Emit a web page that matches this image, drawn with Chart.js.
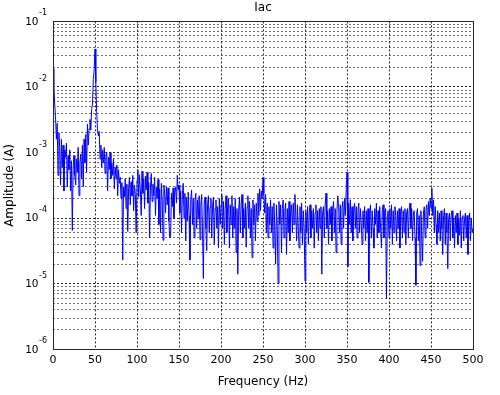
<!DOCTYPE html>
<html lang="en">
<head>
<meta charset="UTF-8">
<title>Iac</title>
<script src="https://cdn.jsdelivr.net/npm/chart.js"></script>
<style>
  html, body { margin: 0; padding: 0; background: #fff; }
</style>
</head>
<body>
<canvas id="iacChart" width="500" height="395"></canvas>
<script>
// spectrum bins, 1 Hz apart
const freqStep = 1;

const amp000 = [
  1.9e-2, 1.1e-2, 5.5e-3, 3.5e-3, 1.6e-3, 2.8e-3, 4.5e-4, 2.0e-3, 1.2e-3, 3.2e-4,
  1.6e-3, 6e-4, 1.3e-3, 2.6e-4, 1.1e-3, 8.5e-4, 1.4e-3, 3e-4, 9e-4, 5.5e-4,
  1.1e-3, 2.6e-4, 7.5e-4, 6.5e-5, 6e-4, 9e-4, 4.5e-4, 3.2e-4, 8e-4, 5e-4,
  1.2e-3, 2.2e-4, 7e-4, 9.5e-4, 4e-4, 1.3e-3, 3e-4, 1.6e-3, 7e-4, 1.9e-3,
  5e-4, 2.7e-3, 1.3e-3, 2.3e-3, 3.2e-3, 2.2e-3, 4.5e-3, 5.5e-3, 1.3e-2, 1.8e-2,
  3.8e-2, 1.2e-2, 4.2e-3, 2.2e-3, 1.8e-3, 2.1e-3, 8e-4, 1.3e-3, 6e-4, 1.1e-3,
  7e-4, 1.2e-3, 4.8e-4, 9e-4, 1.0e-3, 2.6e-4, 8.5e-4, 5.5e-4, 1.0e-3, 4e-4,
  7e-4, 4.5e-4, 8e-4, 2.8e-4, 6e-4, 4e-4, 6.5e-4, 2.2e-4, 5.5e-4, 3.4e-4,
  4.2e-4, 2e-4, 3.5e-4, 2.3e-5, 3e-4, 2.1e-4, 4e-4, 1.4e-4, 3.3e-4, 6.3e-5,
  2.8e-4, 4.2e-4, 1.6e-4, 3.6e-4, 2.2e-4, 4.5e-4, 1.3e-4, 3.2e-4, 2.3e-4, 6e-5
];
const amp100 = [
  3.8e-4, 5.5e-4, 2.1e-4, 4.6e-4, 2.6e-4, 1.1e-4, 5.2e-4, 2.4e-4, 4e-4, 1.4e-4,
  4.4e-4, 2.7e-4, 5e-4, 1.7e-4, 3.5e-4, 5e-5, 2.9e-4, 4.8e-4, 1.8e-4, 3.3e-4,
  2.2e-4, 4.2e-4, 1.1e-4, 3e-4, 2e-4, 3.9e-4, 8e-5, 2.8e-4, 6e-5, 3.4e-4,
  1.9e-4, 4.6e-5, 3.2e-4, 2.3e-4, 1.2e-4, 3e-4, 1.6e-4, 2.9e-4, 9e-5, 5e-5,
  5.1e-5, 2.4e-4, 1.5e-4, 2.9e-4, 1e-4, 2.5e-4, 3e-4, 1.7e-4, 4.5e-4, 2.7e-4,
  3.2e-4, 1.2e-4, 2.6e-4, 6e-5, 2.3e-4, 3.4e-4, 1e-4, 2.4e-4, 4.5e-5, 2.1e-4,
  9e-5, 2.5e-4, 1.1e-4, 2.3e-5, 1.9e-4, 2.7e-4, 8e-5, 2e-4, 5e-5, 1.8e-4,
  2.4e-4, 7e-5, 1.9e-4, 1e-4, 2.2e-4, 4.7e-5, 1.6e-4, 2.3e-4, 6e-5, 1.2e-5,
  1.7e-4, 2.1e-4, 7e-5, 3.2e-5, 1.6e-4, 2.2e-4, 6e-5, 1.5e-4, 2e-4, 5e-5,
  1.6e-4, 2.1e-4, 4e-5, 1.4e-4, 1.9e-4, 7e-5, 1.5e-4, 3.5e-5, 2e-4, 8e-5
];
const amp200 = [
  1.6e-4, 2.3e-4, 7e-5, 1.8e-4, 4e-5, 1.4e-4, 2.2e-4, 6e-5, 1.5e-4, 2e-4,
  3.5e-5, 1.6e-4, 8e-5, 2.2e-4, 5e-5, 1.5e-4, 7e-5, 2e-4, 3e-5, 1.4e-4,
  1.4e-5, 1.3e-4, 2.1e-4, 6e-5, 1.6e-4, 2.3e-4, 5e-5, 1.4e-4, 7e-5, 1.7e-4,
  3.6e-5, 1.5e-4, 2.2e-4, 7e-5, 1.8e-4, 5e-5, 1.4e-4, 2.5e-5, 1.9e-4, 8e-5,
  1.6e-4, 4.5e-5, 1.7e-4, 9e-5, 2.4e-4, 1.1e-4, 2.8e-4, 1.3e-4, 2.6e-4, 2e-4,
  4.2e-4, 2.4e-4, 1.2e-4, 2.3e-4, 6e-5, 1.7e-4, 5e-5, 1.5e-4, 8e-5, 1.9e-4,
  6e-5, 1.5e-4, 3.5e-5, 1.7e-4, 8e-5, 2e-5, 1.6e-4, 7e-5, 1e-5, 1.8e-4,
  8e-5, 1.6e-4, 3e-5, 1.4e-4, 1.9e-4, 5e-5, 1.3e-4, 1.7e-4, 2.8e-5, 1.4e-4,
  6e-5, 1.8e-4, 4.5e-5, 1.3e-4, 1.6e-4, 6e-5, 1.7e-4, 8e-5, 2.3e-4, 1.2e-4,
  4.5e-5, 1.6e-4, 7e-5, 3.5e-5, 1.5e-4, 6e-5, 1.7e-4, 4e-5, 1.3e-4, 7e-5
];
const amp300 = [
  1.1e-5, 1.3e-4, 6e-5, 1.5e-4, 4e-5, 1.2e-4, 1.6e-4, 5e-5, 1.3e-4, 7e-5,
  1.4e-4, 3.5e-5, 1.2e-4, 1.6e-4, 6e-5, 1.3e-4, 4.5e-5, 1.4e-4, 7e-5, 1.5e-4,
  1.4e-5, 1.2e-4, 1.5e-4, 5e-5, 1.6e-4, 2.4e-4, 7e-5, 1.3e-4, 4e-5, 1.4e-4,
  8e-5, 1.5e-4, 4.5e-5, 1.3e-4, 1.8e-4, 6e-5, 1.4e-4, 3e-5, 1.3e-4, 2.2e-4,
  1.5e-4, 6e-5, 1.6e-4, 4e-5, 1.4e-4, 1.8e-4, 7e-5, 2e-4, 1.1e-4, 2.6e-4,
  5e-4, 1.8e-5, 1.7e-4, 8e-5, 1.9e-4, 6e-5, 1.5e-4, 4.5e-5, 1.3e-4, 1.7e-4,
  7e-5, 1.5e-4, 5e-5, 1.3e-4, 1.7e-4, 6e-5, 1.4e-4, 8e-5, 4e-5, 1.3e-4,
  7e-5, 1.5e-4, 4.5e-5, 1.3e-4, 6e-5, 1.4e-4, 1.05e-5, 1.2e-4, 1.6e-4, 5e-5,
  1.3e-4, 7e-5, 3.5e-5, 1.4e-4, 8e-5, 1.7e-4, 5e-5, 1.3e-4, 6e-5, 1.5e-4,
  7e-5, 3.5e-5, 1.3e-4, 1.6e-4, 5e-5, 1.2e-4, 1.4e-4, 5.9e-6, 1e-4, 1.3e-4
];
const amp400 = [
  5e-5, 1.4e-4, 7e-5, 1.6e-4, 4e-5, 1.3e-4, 6e-5, 1.5e-4, 1.1e-4, 4.5e-5,
  1.3e-4, 7e-5, 1.4e-4, 3.5e-5, 1.2e-4, 1.5e-4, 5e-5, 1.3e-4, 6e-5, 1.4e-4,
  4e-5, 1.2e-4, 1.4e-4, 5e-5, 1.3e-4, 1.7e-4, 7e-5, 1.4e-4, 4.5e-5, 1.2e-4,
  1.3e-4, 5e-5, 9.5e-6, 1.2e-4, 1.4e-4, 4.5e-5, 1.1e-4, 1.9e-5, 1.3e-4, 6e-5,
  2.2e-5, 1.2e-4, 1.5e-4, 5e-5, 1.3e-4, 1.6e-4, 7e-5, 1.8e-4, 1.1e-4, 2e-4,
  1.4e-4, 2.9e-4, 1.1e-4, 1.9e-4, 6e-5, 1.5e-4, 8e-5, 4e-5, 1.3e-4, 6e-5,
  1.2e-4, 4.5e-5, 1.3e-4, 7e-5, 2.8e-5, 1.1e-4, 1.4e-4, 4e-5, 1.2e-4, 6e-5,
  1.7e-5, 1e-4, 1.2e-4, 4.5e-5, 1.1e-4, 1.3e-4, 5e-5, 1e-4, 3.5e-5, 1.1e-4,
  6e-5, 1.2e-4, 4e-5, 1e-4, 5.5e-5, 1.3e-4, 3.5e-5, 1e-4, 1.1e-4, 4.5e-5,
  1e-4, 1.2e-4, 5e-5, 1.1e-4, 2.8e-5, 9e-5, 1.2e-4, 4.5e-5, 1e-4, 6e-5,
  7e-5
];
const amplitude = amp000.concat(amp100, amp200, amp300, amp400);

const xTicks = [0, 50, 100, 150, 200, 250, 300, 350, 400, 450, 500];
const yDecades = [-6, -5, -4, -3, -2, -1];
const yMinor = [2, 3, 4, 5, 6, 7, 8, 9];

const fontName = '"DejaVu Sans", "Liberation Sans", sans-serif';

function isDecade(v) {
  const l = Math.log10(v);
  return Math.abs(l - Math.round(l)) < 1e-6;
}

// y labels as 10 with a raised exponent, axis label, and the frame
const matlabAxes = {
  id: 'matlabAxes',
  afterDraw(chart) {
    const { ctx, chartArea, scales } = chart;
    const y = scales.y;
    ctx.save();
    ctx.fillStyle = '#000';
    yDecades.forEach(e => {
      const py = y.getPixelForValue(Math.pow(10, e));
      ctx.font = '10.5px ' + fontName;
      ctx.textAlign = 'right';
      ctx.textBaseline = 'middle';
      ctx.fillText('10', 38.5, py + 0.5);
      ctx.font = '8px ' + fontName;
      ctx.textAlign = 'left';
      ctx.fillText(String(e), 39, py - 8);
    });

    ctx.translate(10, (chartArea.top + chartArea.bottom) / 2);
    ctx.rotate(-Math.PI / 2);
    ctx.font = '12px ' + fontName;
    ctx.textAlign = 'center';
    ctx.textBaseline = 'middle';
    ctx.fillText('Amplitude (A)', 0, 0);
    ctx.restore();

    ctx.save();
    ctx.strokeStyle = '#262626';
    ctx.lineWidth = 1;
    ctx.strokeRect(Math.round(chartArea.left) + 0.5, Math.round(chartArea.top) + 0.5,
      Math.round(chartArea.right - chartArea.left), Math.round(chartArea.bottom - chartArea.top));
    ctx.restore();
  }
};

new Chart(document.getElementById('iacChart'), {
  type: 'line',
  data: {
    datasets: [{
      label: 'Iac',
      data: amplitude.map((a, i) => ({ x: i * freqStep, y: a })),
      borderColor: '#0000ff',
      borderWidth: 1,
      pointRadius: 0,
      tension: 0,
      fill: false
    }]
  },
  options: {
    responsive: false,
    animation: false,
    layout: { padding: { left: 53, right: 27, top: 0, bottom: 6 } },
    plugins: {
      legend: { display: false },
      tooltip: { enabled: false },
      title: {
        display: true,
        text: 'Iac',
        color: '#000',
        font: { family: fontName, size: 12, weight: 'normal' },
        padding: { top: 1, bottom: 6 }
      }
    },
    scales: {
      x: {
        type: 'linear',
        min: 0,
        max: 500,
        afterBuildTicks: s => { s.ticks = xTicks.map(v => ({ value: v })); },
        grid: { color: 'rgba(0,0,0,0.85)', lineWidth: 1, drawTicks: false },
        border: { display: false, dash: [2, 2] },
        ticks: {
          color: '#000',
          padding: 4,
          maxRotation: 0,
          font: { family: fontName, size: 11 }
        },
        title: {
          display: true,
          text: 'Frequency (Hz)',
          color: '#000',
          font: { family: fontName, size: 12 },
          padding: { top: 4, bottom: 0 }
        }
      },
      y: {
        type: 'logarithmic',
        min: 1e-6,
        max: 1e-1,
        afterBuildTicks: s => {
          const t = [];
          yDecades.forEach(e => {
            t.push({ value: Math.pow(10, e) });
            if (e < -1) yMinor.forEach(m => t.push({ value: m * Math.pow(10, e) }));
          });
          s.ticks = t;
        },
        grid: {
          lineWidth: 1,
          drawTicks: false,
          color: c => (c.tick && isDecade(c.tick.value)) ? 'rgba(0,0,0,0.85)' : 'rgba(0,0,0,0.55)'
        },
        border: { display: false, dash: [2, 2] },
        ticks: { display: false }
      }
    }
  },
  plugins: [matlabAxes]
});
</script>
</body>
</html>
